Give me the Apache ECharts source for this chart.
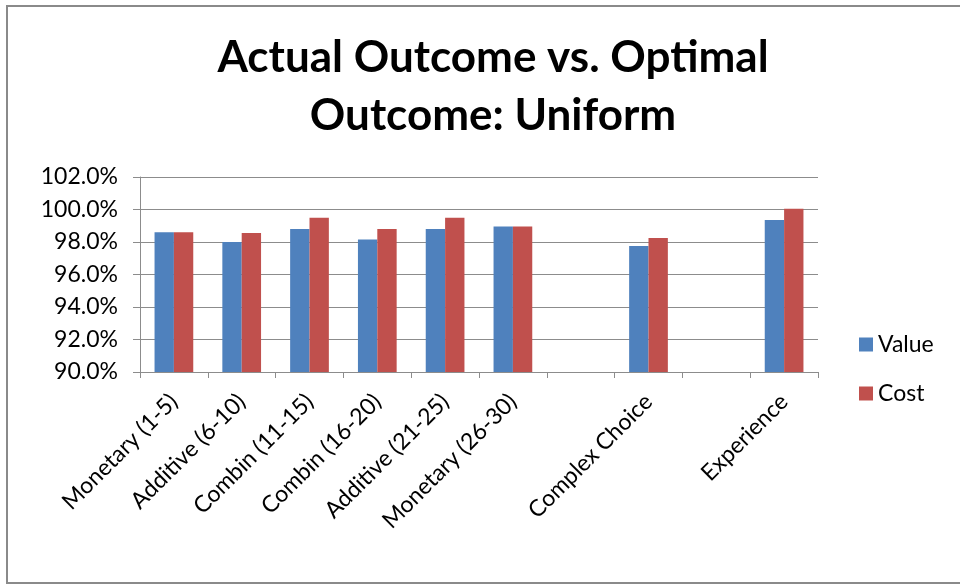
<!DOCTYPE html>
<html>
<head>
<meta charset="utf-8">
<script src="https://cdn.jsdelivr.net/npm/echarts@6/dist/echarts.min.js"></script>
<style>
  html, body { margin: 0; padding: 0; background: #fff; }
  #chart { width: 960px; height: 585px; }
</style>
</head>
<body>
<div id="chart"></div>
<script>
// Task groups (blank entries keep the gaps between blocks)
const categories = [
  'Monetary (1-5)', 'Additive (6-10)', 'Combin (11-15)', 'Combin (16-20)',
  'Additive (21-25)', 'Monetary (26-30)', '', 'Complex Choice', '', 'Experience'
];
// Outcome as a percentage of the optimum
const valueSeries = [98.6, 98.0, 98.8, 98.15, 98.8, 98.95, null, 97.75, null, 99.35];
const costSeries  = [98.6, 98.55, 99.5, 98.8, 99.5, 98.95, null, 98.25, null, 100.05];
const yTicks = [90, 92, 94, 96, 98, 100, 102];

const FONT = 'Lato, "Open Sans", sans-serif';
const GRID_COLOR = '#8c8c8c';

const chart = echarts.init(document.getElementById('chart'), null, { renderer: 'canvas' });
chart.setOption({
  backgroundColor: '#ffffff',
  animation: false,
  graphic: [{
    type: 'rect',
    shape: { x: 7, y: 6, width: 980, height: 577 },
    style: { fill: 'none', stroke: '#8a8a8a', lineWidth: 2 },
    silent: true
  }],
  title: {
    text: 'Actual Outcome vs. Optimal\nOutcome: Uniform',
    left: 488,
    top: 24,
    textAlign: 'center',
    textStyle: {
      fontFamily: FONT,
      fontWeight: 'bold',
      fontSize: 44,
      lineHeight: 58,
      color: '#000'
    }
  },
  legend: {
    orient: 'vertical',
    left: 859,
    top: 333,
    padding: 0,
    itemWidth: 14,
    itemHeight: 14,
    itemGap: 26,
    icon: 'rect',
    textStyle: { fontFamily: FONT, fontSize: 23, lineHeight: 16, color: '#000' },
    data: ['Value', 'Cost']
  },
  grid: { left: 140, right: 142, top: 177, bottom: 213, containLabel: false },
  xAxis: {
    type: 'category',
    data: categories,
    axisLine: { show: true, lineStyle: { color: GRID_COLOR, width: 1 } },
    axisTick: { show: true, alignWithLabel: false, length: 6, lineStyle: { color: GRID_COLOR } },
    axisLabel: {
      interval: 0,
      rotate: 45,
      margin: 26,
      fontFamily: FONT,
      fontSize: 23,
      color: '#000'
    }
  },
  yAxis: {
    type: 'value',
    min: yTicks[0],
    max: yTicks[yTicks.length - 1],
    interval: 2,
    axisLine: { show: true, lineStyle: { color: GRID_COLOR, width: 1 } },
    axisTick: { show: true, length: 7, lineStyle: { color: GRID_COLOR } },
    splitLine: { show: true, lineStyle: { color: GRID_COLOR, width: 1 } },
    axisLabel: {
      margin: 22,
      fontFamily: FONT,
      fontSize: 23,
      color: '#000',
      formatter: v => v.toFixed(1) + '%'
    }
  },
  series: [
    {
      name: 'Value',
      type: 'bar',
      data: valueSeries,
      barGap: '0%',
      barCategoryGap: '42.9%',
      itemStyle: { color: '#4F81BD' }
    },
    {
      name: 'Cost',
      type: 'bar',
      data: costSeries,
      barGap: '0%',
      barCategoryGap: '42.9%',
      itemStyle: { color: '#C0504D' }
    }
  ]
});
</script>
</body>
</html>
